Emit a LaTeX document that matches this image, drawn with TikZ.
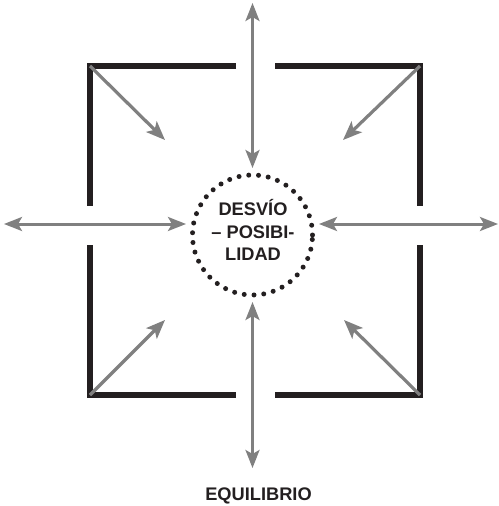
\documentclass[tikz,border=0pt]{standalone}
\usepackage{fontspec}
\setmainfont{Liberation Sans}
\usetikzlibrary{arrows.meta}
\definecolor{arrgray}{RGB}{128,128,128}
\definecolor{framec}{RGB}{35,31,32}
\begin{document}
\begin{tikzpicture}[x=1bp,y=-1bp,
  frameline/.style={draw=framec,line width=5.2bp,line cap=butt,line join=miter},
  garrow/.style={draw=arrgray,line width=3.2bp,-{Stealth[length=19bp,width=15bp,inset=4.5bp]}},
  gdarrow/.style={draw=arrgray,line width=3bp,{Stealth[length=18bp,width=14bp,inset=4bp]}-{Stealth[length=18bp,width=14bp,inset=4bp]}},
  dotring/.style={circle,draw=framec,line width=5bp,line cap=round,dash pattern=on 0bp off 9.8bp,minimum size=120bp,inner sep=0pt},
  lbl/.style={font=\bfseries\fontsize{18.3}{22.5}\selectfont,align=center,text=framec}]
\useasboundingbox (0,0) rectangle (499,506);
% corners and frame ends
\coordinate (tl) at (90,66);
\coordinate (tr) at (420,66);
\coordinate (bl) at (90,395);
\coordinate (br) at (420,395);
\coordinate (tlA) at (236,66);
\coordinate (tlB) at (90,206);
\coordinate (trA) at (275,66);
\coordinate (trB) at (420,206);
\coordinate (blA) at (90,245);
\coordinate (blB) at (236,395);
\coordinate (brA) at (420,245);
\coordinate (brB) at (275,395);
\draw[frameline] (tlA) -- (tl) -- (tlB);
\draw[frameline] (trA) -- (tr) -- (trB);
\draw[frameline] (blA) -- (bl) -- (blB);
\draw[frameline] (brA) -- (br) -- (brB);
% centre ring
\node[dotring] (ring) at (252.5,235) {};
\node[lbl] (txt) at (253,230) {DESVÍO\\– POSIBI-\\LIDAD};
% straight arrows
\coordinate (topEnd) at (252.5,3);
\coordinate (topIn) at (252.5,168);
\coordinate (botIn) at (252.5,302);
\coordinate (botEnd) at (252.5,468);
\coordinate (leftEnd) at (4,224);
\coordinate (leftIn) at (186,224);
\coordinate (rightIn) at (319,224);
\coordinate (rightEnd) at (498,224);
\draw[gdarrow] (topEnd) -- (topIn);
\draw[gdarrow] (botIn) -- (botEnd);
\draw[gdarrow] (leftEnd) -- (leftIn);
\draw[gdarrow] (rightIn) -- (rightEnd);
% diagonal arrows
\coordinate (tlTip) at (165,140);
\coordinate (trTip) at (343,140);
\coordinate (blTip) at (165,320);
\coordinate (brTip) at (344,320);
\draw[garrow] (tl) -- (tlTip);
\draw[garrow] (tr) -- (trTip);
\draw[garrow] (bl) -- (blTip);
\draw[garrow] (br) -- (brTip);
\node[lbl,anchor=base] (eq) at (258.5,500) {EQUILIBRIO};
\end{tikzpicture}
\end{document}
